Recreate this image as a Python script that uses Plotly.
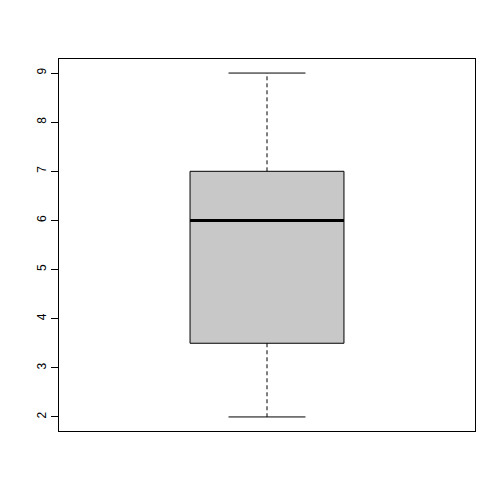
import plotly.graph_objects as go

group = [1]
q1 = [3.5]
median = [6.0]
q3 = [7.0]
lower = [2.0]
upper = [9.0]
y_ticks = [2, 3, 4, 5, 6, 7, 8, 9]

bw = 0.37
cap = bw / 4
fig = go.Figure()
x = group[0]
fig.add_trace(go.Box(x=group, q1=q1, median=median, q3=q3, lowerfence=q1, upperfence=q3,
                     width=bw, whiskerwidth=0, fillcolor="#C8C8C8",
                     line=dict(color="black", width=1), boxpoints=False, hoverinfo="skip"))
# dashed whiskers
fig.add_trace(go.Scatter(x=[x, x, None, x, x], y=[q3[0], upper[0], None, q1[0], lower[0]],
                         mode="lines", line=dict(color="black", width=1, dash="4px,3px")))
# caps
fig.add_trace(go.Scatter(x=[x - cap, x + cap, None, x - cap, x + cap],
                         y=[upper[0], upper[0], None, lower[0], lower[0]],
                         mode="lines", line=dict(color="black", width=1)))
# median
fig.add_trace(go.Scatter(x=[x - bw / 2, x + bw / 2], y=[median[0], median[0]],
                         mode="lines", line=dict(color="black", width=3)))

fig.update_layout(width=504, height=504, showlegend=False,
                  margin=dict(l=51, r=37, t=51, b=81),
                  paper_bgcolor="white", plot_bgcolor="white",
                  font=dict(family="Liberation Sans, Arial", size=12, color="black"))
fig.update_xaxes(range=[0.5, 1.5], showticklabels=False, ticks="", showgrid=False,
                 zeroline=False, showline=True, mirror=True, linecolor="black", linewidth=1,
                 automargin=False)
fig.update_yaxes(range=[1.714, 9.286], tickvals=y_ticks, ticks="outside", ticklen=7,
                 tickangle=-90, showgrid=False, zeroline=False, showline=True, mirror=True,
                 linecolor="black", linewidth=1, tickcolor="black", automargin=False)
fig.write_html("out.html")
